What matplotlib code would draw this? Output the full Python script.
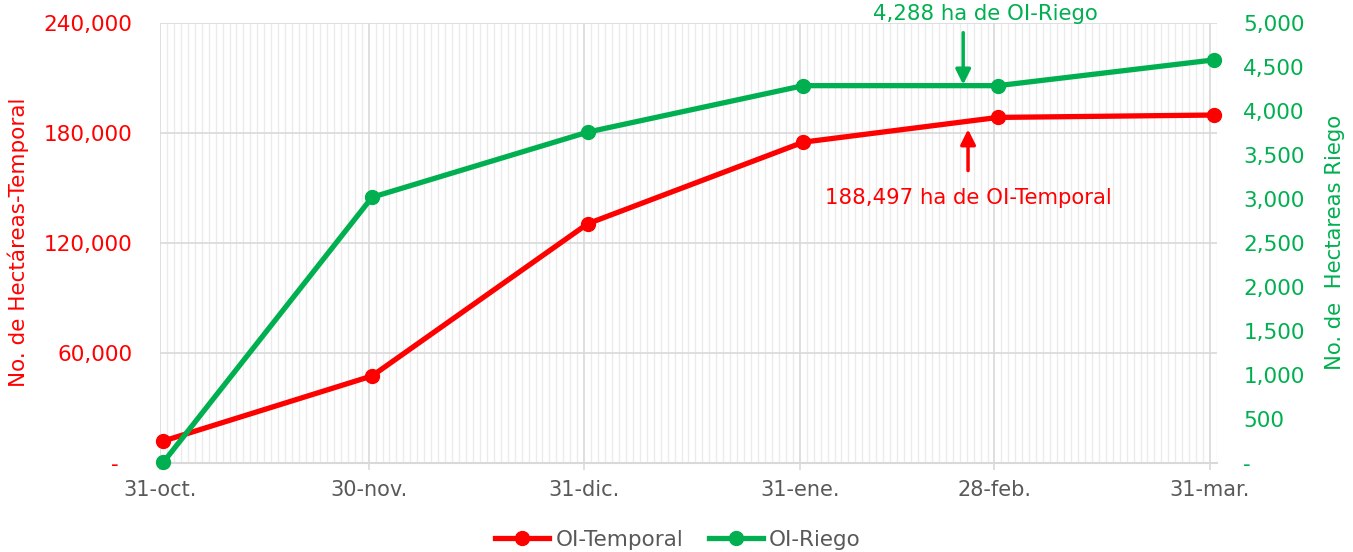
import matplotlib
matplotlib.use("Agg")
import matplotlib.pyplot as plt
import matplotlib.dates as mdates
import matplotlib.ticker as mticker
import pandas as pd

fechas = ["2022-10-31", "2022-11-30", "2022-12-31", "2023-01-31", "2023-02-28", "2023-03-31"]
etiquetas = ["31-oct.", "30-nov.", "31-dic.", "31-ene.", "28-feb.", "31-mar."]
temporal = [12000, 47500, 130500, 175000, 188497, 189800]
riego = [10, 3020, 3760, 4288, 4288, 4580]

ROJO = "#FF0000"
VERDE = "#00B050"
GRIS = "#595959"

plt.rcParams.update({"font.family": "DejaVu Sans"})

x = pd.to_datetime(fechas)
# Excel date axis: points sit in the middle of each day
xp = x + pd.Timedelta(hours=12)

fig = plt.figure(figsize=(13.53, 5.52), dpi=100)
ax = fig.add_axes([160 / 1353, 89 / 552, 1057 / 1353, 440 / 552])
ax2 = ax.twinx()

ax.set_xlim(mdates.date2num(x[0]), mdates.date2num(x[-1] + pd.Timedelta(days=1)))
ax.set_ylim(0, 240000)
ax2.set_ylim(0, 5000)

# gridlines
ax.xaxis.set_major_locator(mticker.FixedLocator(mdates.date2num(x)))
ax.xaxis.set_major_formatter(mticker.FixedFormatter(etiquetas))
ax.xaxis.set_minor_locator(mdates.DayLocator())
ax.grid(which="minor", axis="x", color="#ebebeb", linewidth=1)
ax.grid(which="major", axis="x", color="#d9d9d9", linewidth=1.2)
ax.yaxis.set_major_locator(mticker.MultipleLocator(60000))
ax.grid(which="major", axis="y", color="#d9d9d9", linewidth=1.2)
ax.set_axisbelow(True)

for s in ["top", "left", "right"]:
    ax.spines[s].set_visible(False)
    ax2.spines[s].set_visible(False)
ax.spines["bottom"].set_color("#d9d9d9")
ax.spines["bottom"].set_linewidth(1.5)
ax2.spines["bottom"].set_visible(False)

ax.tick_params(axis="x", which="major", length=5, color="#d9d9d9", width=1.2,
               labelsize=15, labelcolor=GRIS, pad=7)
ax.tick_params(axis="x", which="minor", length=0)

fmt_l = mticker.FuncFormatter(lambda v, p: "-  " if v == 0 else f"{v:,.0f}")
ax.yaxis.set_major_formatter(fmt_l)
ax.tick_params(axis="y", length=0, labelsize=15.5, labelcolor=ROJO, pad=20)

ax2.yaxis.set_major_locator(mticker.MultipleLocator(500))
fmt_r = mticker.FuncFormatter(lambda v, p: "-" if v == 0 else f"{v:,.0f}")
ax2.yaxis.set_major_formatter(fmt_r)
ax2.tick_params(axis="y", length=0, labelsize=15.5, labelcolor=VERDE, pad=19)

l1, = ax.plot(xp, temporal, color=ROJO, linewidth=3.8, marker="o",
              markersize=10, label="OI-Temporal", clip_on=False, zorder=3)
l2, = ax2.plot(xp, riego, color=VERDE, linewidth=3.8, marker="o",
               markersize=10, label="OI-Riego", clip_on=False, zorder=3)

# annotations
xa = mdates.date2num(pd.Timestamp("2023-02-23 12:00"))
flecha = "-|>,head_width=0.45,head_length=0.9"
ax2.annotate("", xy=(xa, 4300), xytext=(xa, 4890),
             arrowprops=dict(arrowstyle=flecha, color=VERDE, lw=2.5,
                             shrinkA=0, shrinkB=0), annotation_clip=False)
ax2.text(xa + 3.2, 5100, "4,288 ha de OI-Riego", color=VERDE, fontsize=15.3,
         ha="center", va="center", clip_on=False)
ax.annotate("", xy=(xa + 0.7, 182000), xytext=(xa + 0.7, 159500),
            arrowprops=dict(arrowstyle=flecha, color=ROJO, lw=2.5,
                            shrinkA=0, shrinkB=0), annotation_clip=False)
ax.text(xa + 0.8, 144500, "188,497 ha de OI-Temporal", color=ROJO, fontsize=15.3,
        ha="center", va="center")

fig.text(18 / 1353, 1 - 242 / 552, "No. de Hectáreas-Temporal", color=ROJO,
         fontsize=15.5, rotation=90, ha="center", va="center")
fig.text(1335 / 1353, 1 - 242 / 552, "No. de  Hectareas Riego", color=VERDE,
         fontsize=15.2, rotation=90, ha="center", va="center")

fig.legend(handles=[l1, l2], loc="center", bbox_to_anchor=(678 / 1353, 12 / 552),
           ncol=2, frameon=False, fontsize=15.5, handlelength=2.5,
           handletextpad=0.3, columnspacing=1.2, labelcolor=GRIS)

fig.savefig("out.png", dpi=100)
